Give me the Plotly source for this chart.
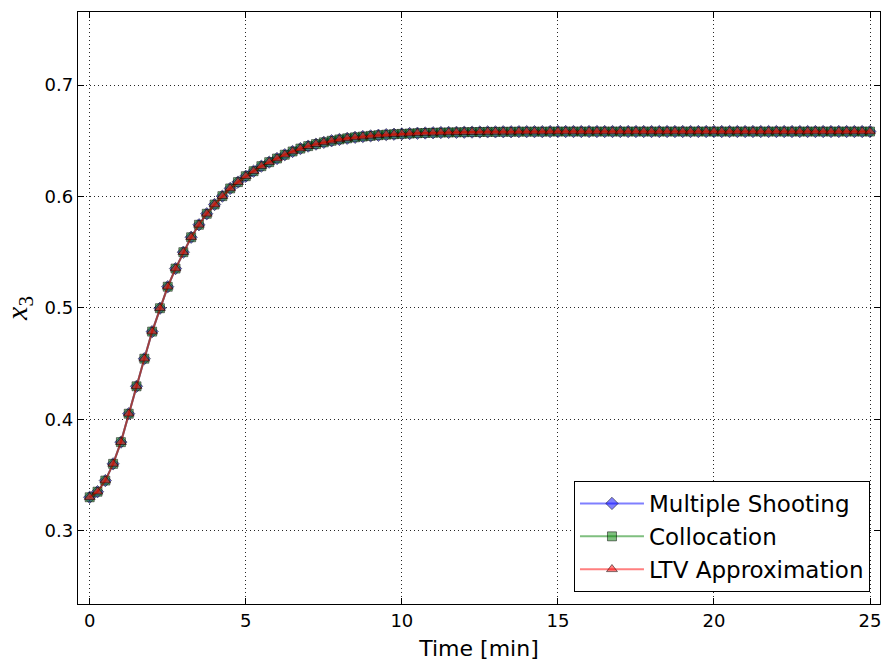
import plotly.graph_objects as go

# Time grid [min]
time_min = [i * 0.25 for i in range(101)]

# x3 trajectory (the three methods overlap)
x3_multiple_shooting = [
    0.3300, 0.3350, 0.3450, 0.3600, 0.3795, 0.4050, 0.4296, 0.4544, 0.4787, 0.4997,
    0.5190, 0.5353, 0.5500, 0.5634, 0.5746, 0.5845, 0.5928, 0.6003, 0.6072, 0.6129,
    0.6182, 0.6227, 0.6272, 0.6308, 0.6341, 0.6375, 0.6404, 0.6430, 0.6452, 0.6470,
    0.6486, 0.6500, 0.6512, 0.6522, 0.6531, 0.6538, 0.6544, 0.6550, 0.6555, 0.6559,
    0.6562, 0.6565, 0.6568, 0.6570, 0.6572, 0.6574, 0.6575, 0.6576, 0.6577, 0.6578,
    0.6579, 0.6580, 0.6580, 0.6581, 0.6581, 0.6582, 0.6582, 0.6582, 0.6582, 0.6583,
    0.6583, 0.6583, 0.6583, 0.6583, 0.6583, 0.6583, 0.6583, 0.6583, 0.6583, 0.6583,
    0.6583, 0.6583, 0.6583, 0.6583, 0.6583, 0.6583, 0.6583, 0.6583, 0.6583, 0.6583,
    0.6583, 0.6583, 0.6583, 0.6583, 0.6583, 0.6583, 0.6583, 0.6583, 0.6583, 0.6583,
    0.6583, 0.6583, 0.6583, 0.6583, 0.6583, 0.6583, 0.6583, 0.6583, 0.6583, 0.6583,
    0.6583,
]
x3_collocation = list(x3_multiple_shooting)
x3_ltv = list(x3_multiple_shooting)

series_names = ["Multiple Shooting", "Collocation", "LTV Approximation"]
x_ticks = [0, 5, 10, 15, 20, 25]
y_ticks = [0.3, 0.4, 0.5, 0.6, 0.7]

FONT = "DejaVu Sans"
EDGE = "rgba(0,0,0,0.5)"

fig = go.Figure()
styles = [
    (x3_multiple_shooting, "rgba(0,0,255,0.5)", "diamond", 9.5),
    (x3_collocation, "rgba(0,128,0,0.5)", "square", 9),
    (x3_ltv, "rgba(255,0,0,0.5)", "triangle-up", 9.5),
]
for name, (vals, col, sym, sz) in zip(series_names, styles):
    fig.add_trace(go.Scatter(
        x=time_min, y=vals, name=name, mode="lines+markers",
        line=dict(color=col, width=2),
        marker=dict(symbol=sym, size=sz, color=col, line=dict(color=EDGE, width=1)),
        legendgroup=name,
    ))

axis_common = dict(
    showline=True, linecolor="black", linewidth=1.3, mirror="allticks",
    ticks="inside", ticklen=6, tickwidth=1, tickcolor="black",
    showgrid=True, gridcolor="rgba(0,0,0,0.85)", gridwidth=1, griddash="1px,3px",
    zeroline=False, tickfont=dict(family=FONT, size=18, color="black"),
)

fig.update_xaxes(
    range=[-0.375, 25.32], tickvals=x_ticks, ticktext=[str(v) for v in x_ticks],
    title=dict(text="Time [min]", font=dict(family=FONT, size=22, color="black"), standoff=10),
    **axis_common,
)
fig.update_yaxes(
    range=[0.2342, 0.7656], tickvals=y_ticks, ticktext=[f"{v:.1f}" for v in y_ticks],
    title=dict(text="<i>x</i><sub>3</sub>", font=dict(family="Liberation Serif", size=30, color="black"), standoff=8),
    **axis_common,
)

fig.update_layout(
    width=884, height=664,
    margin=dict(l=78, r=4, t=12, b=60),
    paper_bgcolor="white", plot_bgcolor="white",
    font=dict(family=FONT, color="black"),
    legend=dict(
        x=0.9875, y=0.0203, xanchor="right", yanchor="bottom",
        bgcolor="white", bordercolor="black", borderwidth=1,
        font=dict(family=FONT, size=23, color="black"),
        tracegroupgap=0, itemwidth=64,
    ),
    showlegend=True,
)

fig.write_html("out.html", config={"displayModeBar": False},
               post_script="document.body.style.margin='0';")
